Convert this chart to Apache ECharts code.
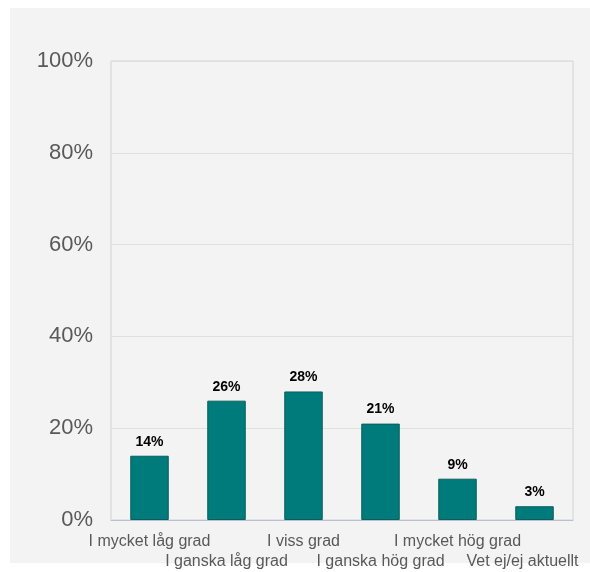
<!DOCTYPE html>
<html><head><meta charset="utf-8">
<script src="https://cdn.jsdelivr.net/npm/echarts@6/dist/echarts.min.js"></script>
<style>html,body{margin:0;padding:0;background:#fff;}#c{width:590px;height:572px;}</style>
</head><body><div id="c"></div>
<script>
const categories = ['I mycket låg grad','I ganska låg grad','I viss grad','I ganska hög grad','I mycket hög grad','Vet ej/ej aktuellt'];
const values = [14, 26, 28, 21, 9, 3];
const yTicks = [0, 20, 40, 60, 80, 100];

const chart = echarts.init(document.getElementById('c'), null, {renderer:'canvas'});
const labFont = {color: '#595959', fontFamily: 'Liberation Sans, Arial, sans-serif', fontSize: 16, lineHeight: 20};
chart.setOption({
  backgroundColor: '#ffffff',
  animation: false,
  graphic: [{
    type: 'rect', left: 10, top: 8, z: -10,
    shape: {width: 580, height: 555},
    style: {fill: '#f3f3f3'}
  }],
  grid: {left: 111, top: 61, right: 17, bottom: 52, containLabel: false, outerBoundsMode: 'none', show: true, borderColor: '#d2d2d2', borderWidth: 1, backgroundColor: 'transparent'},
  xAxis: {
    type: 'category', data: categories,
    axisLine: {show: true, lineStyle: {color: '#b8c0d4', width: 1}},
    axisTick: {show: false},
    axisLabel: {
      interval: 0, color: '#595959', fontFamily: 'Liberation Sans, Arial, sans-serif', fontSize: 16,
      margin: 12, lineHeight: 20,
      formatter: function (v, i) {
        if (i === categories.length - 1) return '\n{s|' + v + '}';
        return i % 2 === 1 ? '\n' + v : v;
      },
      rich: {s: Object.assign({padding: [0, 24, 0, 0]}, labFont)}
    }
  },
  yAxis: {
    type: 'value', min: yTicks[0], max: yTicks[yTicks.length-1], interval: 20,
    axisLine: {show: false}, axisTick: {show: false},
    splitLine: {lineStyle: {color: '#e0e0e0', width: 1}},
    axisLabel: {color: '#595959', fontFamily: 'Liberation Sans, Arial, sans-serif', fontSize: 22, margin: 18, formatter: '{value}%'}
  },
  series: [{
    type: 'bar', data: values, barWidth: '50%',
    itemStyle: {color: '#007b7b', borderColor: '#0b5e5e', borderWidth: 1},
    label: {show: true, position: 'top', distance: 7, formatter: '{c}%', color: '#000', fontWeight: 'bold', fontSize: 14, fontFamily: 'Liberation Sans, Arial, sans-serif'}
  }]
});
</script></body></html>
